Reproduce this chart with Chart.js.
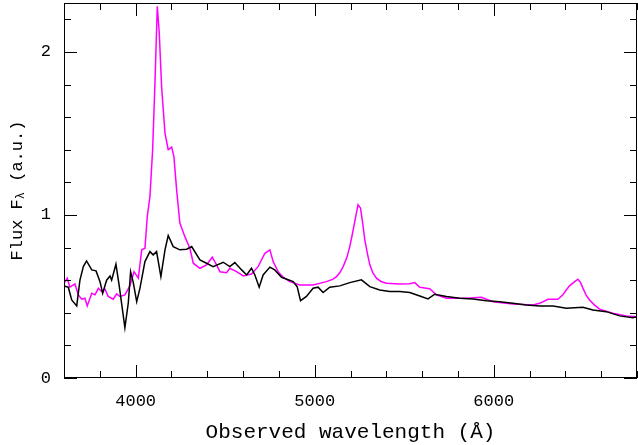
<!DOCTYPE html>
<html>
<head>
<meta charset="utf-8">
<script src="https://cdn.jsdelivr.net/npm/chart.js@4/dist/chart.umd.min.js"></script>
<style>
  html, body { margin: 0; padding: 0; background: #fff; }
  #wrap { width: 638px; height: 445px; }
</style>
</head>
<body>
<div id="wrap"><canvas id="spec" width="638" height="445"></canvas></div>
<script>
// spectra: wavelength (Å) and flux (a.u.)
const blackWave = [3600, 3624, 3643, 3671, 3689, 3708, 3726, 3755, 3779, 3801, 3816, 3838, 3857, 3866, 3890, 3909,
  3940, 3959, 3972, 3987, 4006, 4024, 4052, 4080, 4098, 4117, 4141, 4164, 4182, 4210, 4247, 4285, 4313, 4359, 4396,
  4433, 4489, 4526, 4554, 4592, 4620, 4647, 4666, 4690, 4712, 4750, 4777, 4815, 4880, 4902, 4921, 4954, 4991, 5019,
  5047, 5084, 5140, 5196, 5261, 5308, 5363, 5419, 5475, 5531, 5587, 5633, 5670, 5736, 5810, 5884, 5959, 6033, 6107,
  6182, 6256, 6331, 6405, 6498, 6554, 6628, 6703, 6777, 6800];
const blackFlux = [0.565, 0.557, 0.479, 0.442, 0.60, 0.683, 0.718, 0.663, 0.657, 0.591, 0.52, 0.60, 0.626, 0.60, 0.698, 0.56,
  0.309, 0.46, 0.652, 0.585, 0.468, 0.55, 0.714, 0.775, 0.755, 0.775, 0.622, 0.786, 0.874, 0.806, 0.786, 0.79, 0.806, 0.724, 0.704,
  0.683, 0.71, 0.683, 0.708, 0.663, 0.632, 0.673, 0.632, 0.557, 0.632, 0.68, 0.663, 0.618, 0.591, 0.56, 0.474, 0.50, 0.551, 0.557,
  0.524, 0.557, 0.565, 0.585, 0.602, 0.56, 0.54, 0.53, 0.53, 0.524, 0.503, 0.485, 0.514, 0.50, 0.489, 0.485, 0.474, 0.468, 0.458,
  0.448, 0.442, 0.442, 0.428, 0.434, 0.417, 0.407, 0.381, 0.37, 0.375];

const magentaWave = [3600, 3618, 3633, 3661, 3680, 3699, 3717, 3730, 3755, 3773, 3792, 3810, 3829, 3847, 3875, 3894, 3912,
  3940, 3968, 3991, 4015, 4034, 4052, 4065, 4080, 4095, 4108, 4121, 4132, 4145, 4164, 4182, 4201, 4214, 4229, 4247, 4275,
  4303, 4322, 4359, 4396, 4428, 4452, 4471, 4508, 4526, 4564, 4601, 4647, 4684, 4722, 4750, 4768, 4796, 4824, 4861, 4917,
  4991, 5066, 5100, 5122, 5140, 5159, 5180, 5196, 5210, 5224, 5242, 5256, 5268, 5280, 5295, 5308, 5325, 5345, 5370, 5401,
  5475, 5530, 5559, 5587, 5642, 5680, 5736, 5847, 5931, 5996, 6107, 6219, 6256, 6303, 6358, 6386, 6405, 6423, 6450, 6470,
  6485, 6498, 6515, 6535, 6560, 6591, 6665, 6740, 6800];
const magentaFlux = [0.581, 0.612, 0.557, 0.577, 0.51, 0.483, 0.489, 0.442, 0.52, 0.51, 0.55, 0.53, 0.545, 0.50, 0.483, 0.516, 0.50,
  0.51, 0.565, 0.652, 0.612, 0.786, 0.796, 0.99, 1.113, 1.40, 1.81, 2.28, 2.116, 1.788, 1.502, 1.40, 1.416, 1.358, 1.154, 0.95, 0.867,
  0.796, 0.704, 0.673, 0.694, 0.741, 0.694, 0.652, 0.646, 0.673, 0.652, 0.626, 0.638, 0.683, 0.765, 0.786, 0.714, 0.652, 0.618, 0.591, 0.571,
  0.571, 0.591, 0.605, 0.622, 0.645, 0.683, 0.74, 0.806, 0.88, 0.96, 1.062, 1.042, 0.95, 0.847, 0.76, 0.694, 0.645, 0.612, 0.592, 0.581,
  0.577, 0.578, 0.585, 0.557, 0.548, 0.51, 0.489, 0.489, 0.495, 0.468, 0.454, 0.448, 0.458, 0.483, 0.483, 0.51, 0.54, 0.565, 0.59, 0.606,
  0.585, 0.551, 0.51, 0.479, 0.45, 0.422, 0.397, 0.381, 0.375];

const xTicks = [4000, 5000, 6000];
const yTicks = [0, 1, 2];

const FONT = '"Liberation Mono", "DejaVu Sans Mono", monospace';

function pairs(xs, ys) { return xs.map((x, i) => ({ x: x, y: ys[i] })); }

// frame + inward ticks on all four sides, PGPLOT style
const framePlugin = {
  id: 'frame',
  afterDraw(chart) {
    const { ctx, chartArea: a, scales: { x, y } } = chart;
    ctx.save();
    ctx.strokeStyle = '#000';
    ctx.lineWidth = 1;
    ctx.strokeRect(a.left + 0.5, a.top + 0.5, a.right - a.left - 1, a.bottom - a.top - 1);
    ctx.beginPath();
    for (let v = 3600; v <= 6800; v += 200) {
      const px = Math.round(x.getPixelForValue(v)) + 0.5;
      const len = v % 1000 === 0 ? 13 : 7;
      ctx.moveTo(px, a.bottom); ctx.lineTo(px, a.bottom - len);
      ctx.moveTo(px, a.top); ctx.lineTo(px, a.top + len);
    }
    for (let i = 0; i <= 11; i++) {
      const v = i * 0.2;
      const py = Math.round(y.getPixelForValue(v)) + 0.5;
      const len = i % 5 === 0 ? 13 : 7;
      ctx.moveTo(a.left, py); ctx.lineTo(a.left + len, py);
      ctx.moveTo(a.right, py); ctx.lineTo(a.right - len, py);
    }
    ctx.stroke();

    // y title with subscript lambda
    ctx.translate(17, (a.top + a.bottom) / 2);
    ctx.rotate(-Math.PI / 2);
    ctx.fillStyle = '#000';
    ctx.textBaseline = 'middle';
    const big = '17px ' + FONT, small = '12px ' + FONT;
    ctx.font = big; const w1 = ctx.measureText('Flux F').width;
    ctx.font = small; const w2 = ctx.measureText('λ').width;
    ctx.font = big; const w3 = ctx.measureText(' (a.u.)').width;
    let cx = -(w1 + w2 + w3) / 2;
    ctx.font = big; ctx.fillText('Flux F', cx, 0); cx += w1;
    ctx.font = small; ctx.fillText('λ', cx, 4); cx += w2;
    ctx.font = big; ctx.fillText(' (a.u.)', cx, 0);
    ctx.restore();
  }
};

new Chart(document.getElementById('spec'), {
  type: 'line',
  data: {
    datasets: [
      {
        label: 'black',
        data: pairs(blackWave, blackFlux),
        borderColor: '#000000',
        borderWidth: 1.5,
        pointRadius: 0,
        tension: 0,
        fill: false
      },
      {
        label: 'magenta',
        data: pairs(magentaWave, magentaFlux),
        borderColor: '#ff00ff',
        borderWidth: 1.5,
        pointRadius: 0,
        tension: 0,
        fill: false
      }
    ]
  },
  options: {
    responsive: false,
    animation: false,
    layout: { padding: { top: 3, right: 1, left: 0, bottom: 0 } },
    plugins: { legend: { display: false }, tooltip: { enabled: false } },
    scales: {
      x: {
        type: 'linear',
        min: 3600,
        max: 6800,
        afterBuildTicks: (s) => { s.ticks = xTicks.map(v => ({ value: v })); },
        afterFit: (s) => { s.height = 67; s.paddingLeft = 0; s.paddingRight = 0; },
        grid: { display: false, drawTicks: false },
        border: { display: false },
        ticks: { color: '#000', padding: 13, maxRotation: 0, font: { family: FONT, size: 17 }, callback: (v) => String(v) },
        title: {
          display: true,
          text: 'Observed wavelength (Å)',
          color: '#000',
          padding: { top: 0, bottom: 0 },
          font: { family: FONT, size: 21 }
        }
      },
      y: {
        type: 'linear',
        min: 0,
        max: 2.3,
        afterBuildTicks: (s) => { s.ticks = yTicks.map(v => ({ value: v })); },
        afterFit: (s) => { s.width = 64; s.paddingTop = 0; s.paddingBottom = 0; },
        grid: { display: false, drawTicks: false },
        border: { display: false },
        ticks: { color: '#000', padding: 13, font: { family: FONT, size: 17 }, callback: (v) => String(v) }
      }
    }
  },
  plugins: [framePlugin]
});
</script>
</body>
</html>
